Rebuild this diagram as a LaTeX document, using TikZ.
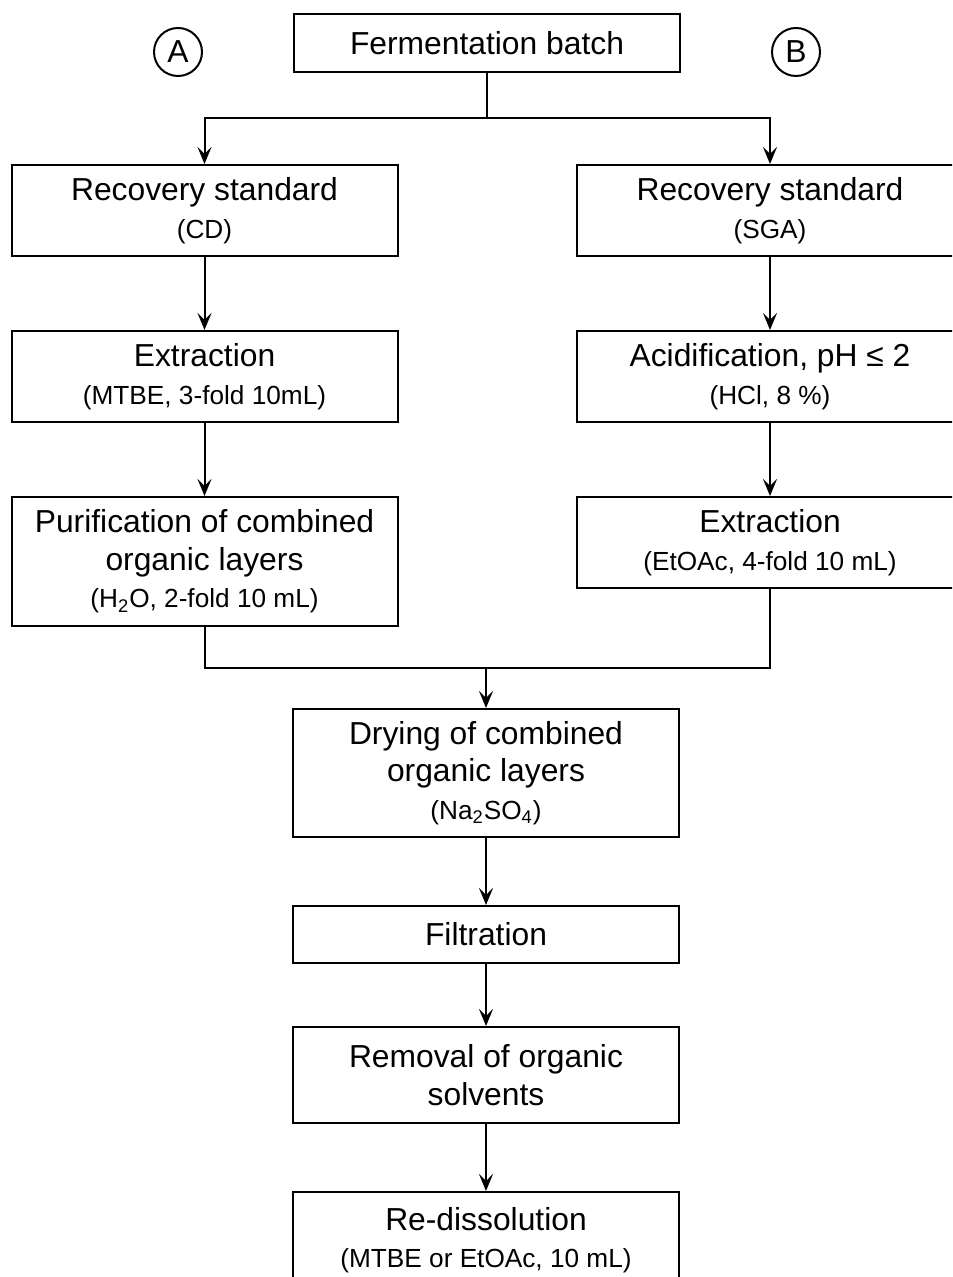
\documentclass[tikz,border=0pt]{standalone}
\usepackage{fontspec}
\setmainfont{Liberation Sans}
\usetikzlibrary{arrows.meta}

\newcommand{\detail}{\fontsize{13.1}{17.8}\selectfont}

\begin{document}
\begin{tikzpicture}[x=0.5pt,y=-0.5pt,
    font=\fontsize{15.9}{18.8}\selectfont,
    stage/.style={draw,line width=1pt,align=center,minimum width=193pt,inner sep=2pt},
    branch/.style={draw,circle,line width=1pt,minimum size=24pt,inner sep=0pt},
    flow/.style={line width=1pt,-{Stealth[length=8.5pt,width=7pt,inset=3.5pt]}}]
        \useasboundingbox (0,0) rectangle (952,1277);
        \clip (0,0) rectangle (952,1277);

        % top of both routes
        \node[stage,minimum height=29pt] (ferm) at (487,43) {Fermentation batch};
        \node[branch] (A) at (178,52) {A};
        \node[branch] (B) at (796,52) {B};

        % route A
        \node[stage,minimum height=45.5pt] (recL) at (204.5,210.5) {Recovery standard\\\detail(CD)};
        \node[stage,minimum height=45.5pt] (extL) at (204.5,376.5) {Extraction\\\detail(MTBE, 3-fold 10mL)};
        \node[stage,minimum height=64.5pt] (purL) at (204.5,561.5) {Purification of combined\\organic layers\\\detail(H\textsubscript{2}O, 2-fold 10 mL)};

        % route B
        \node[stage,minimum height=45.5pt] (recR) at (770,210.5) {Recovery standard\\\detail(SGA)};
        \node[stage,minimum height=45.5pt] (acid) at (770,376.5) {Acidification, pH ≤ 2\\\detail(HCl, 8 \%)};
        \node[stage,minimum height=45.5pt] (extR) at (770,542.5) {Extraction\\\detail(EtOAc, 4-fold 10 mL)};

        % common work-up
        \node[stage,minimum height=64pt] (dry) at (486,773) {Drying of combined\\organic layers\\\detail(Na\textsubscript{2}SO\textsubscript{4})};
        \node[stage,minimum height=28.5pt] (filt) at (486,934.5) {Filtration};
        \node[stage,minimum height=48pt] (rem) at (486,1075) {Removal of organic\\solvents};
        \node[stage,minimum height=48pt] (redis) at (486,1240) {Re-dissolution\\\detail(MTBE or EtOAc, 10 mL)};

        \coordinate (split) at (487,118);
        \coordinate (merge) at (486,668);

        \draw[line width=1pt] (ferm) -- (split);
        \draw[flow] (split) -| (recL);
        \draw[flow] (split) -| (recR);
        \draw[flow] (recL) -- (extL);
        \draw[flow] (extL) -- (purL);
        \draw[flow] (recR) -- (acid);
        \draw[flow] (acid) -- (extR);
        \draw[line width=1pt] (purL) |- (merge);
        \draw[line width=1pt] (extR) |- (merge);
        \draw[flow] (merge) -- (dry);
        \draw[flow] (dry) -- (filt);
        \draw[flow] (filt) -- (rem);
        \draw[flow] (rem) -- (redis);
      \end{tikzpicture}
\end{document}
